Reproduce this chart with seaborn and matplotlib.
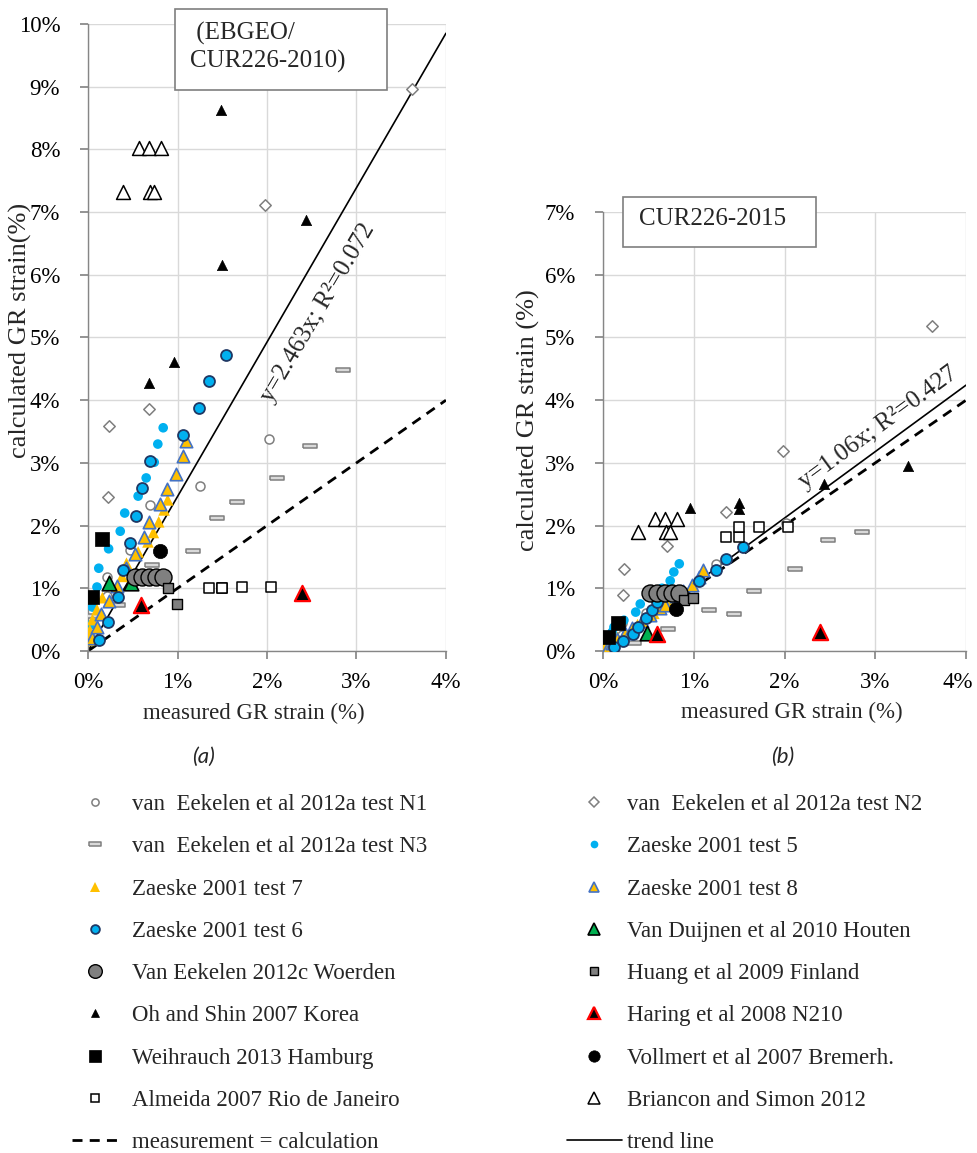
import matplotlib
matplotlib.use("Agg")
import matplotlib.pyplot as plt
from matplotlib.lines import Line2D
from matplotlib.patches import Rectangle
from matplotlib.ticker import FuncFormatter
from matplotlib.transforms import ScaledTranslation
import seaborn as sns

# ---- data (strain in %), panel a = EBGEO/CUR226-2010, panel b = CUR226-2015 ----
n1_x = [0.21, 0.21, 0.47, 0.69, 1.25, 2.02]
n1_a = [0.88, 1.18, 1.61, 2.33, 2.63, 3.38]
n1_b = [0.25, 0.45, 0.61, 0.95, 1.39, 2.04]

n2_xa = [0.22, 0.23, 0.68, 1.98, 3.62]
n2_a = [2.46, 3.59, 3.86, 7.11, 8.96]
n2_xb = [0.22, 0.23, 0.70, 1.36, 1.98, 3.62]
n2_b = [0.89, 1.31, 1.68, 2.22, 3.19, 5.18]

n3_x = [0.04, 0.34, 0.72, 1.17, 1.44, 1.66, 2.11, 2.48, 2.85]
n3_a = [0.56, 0.73, 1.37, 1.60, 2.12, 2.38, 2.76, 3.27, 4.48]
n3_b = [0.08, 0.13, 0.35, 0.65, 0.59, 0.96, 1.31, 1.77, 1.90]

t5_x = [0.02, 0.05, 0.10, 0.12, 0.23, 0.36, 0.41, 0.56, 0.65, 0.74, 0.78, 0.84]
t5_a = [0.41, 0.70, 1.02, 1.32, 1.63, 1.91, 2.20, 2.47, 2.76, 3.01, 3.30, 3.56]
t5_b = [0.12, 0.22, 0.30, 0.38, 0.49, 0.62, 0.75, 0.90, 1.00, 1.12, 1.26, 1.39]

t7_x = [0.01, 0.02, 0.05, 0.10, 0.16, 0.38, 0.43, 0.56, 0.67, 0.73, 0.79, 0.85, 0.89]
t7_a = [0.17, 0.33, 0.50, 0.66, 0.85, 1.19, 1.40, 1.58, 1.74, 1.89, 2.06, 2.25, 2.41]
t7_b = [0.03, 0.06, 0.10, 0.16, 0.22, 0.42, 0.48, 0.60, 0.72, 0.78, 0.84, 0.90, 0.95]

t8_x = [0.05, 0.10, 0.15, 0.24, 0.32, 0.43, 0.52, 0.63, 0.68, 0.80, 0.88, 0.98, 1.06, 1.10]
t8_a = [0.21, 0.38, 0.59, 0.80, 1.03, 1.32, 1.55, 1.81, 2.06, 2.35, 2.58, 2.82, 3.11, 3.35]
t8_b = [0.07, 0.13, 0.19, 0.28, 0.37, 0.48, 0.57, 0.68, 0.74, 0.87, 0.95, 1.05, 1.18, 1.29]

t6_x = [0.12, 0.22, 0.33, 0.39, 0.47, 0.54, 0.60, 0.69, 1.06, 1.24, 1.35, 1.54]
t6_a = [0.17, 0.46, 0.86, 1.29, 1.72, 2.15, 2.60, 3.03, 3.45, 3.88, 4.31, 4.72]
t6_b = [0.07, 0.16, 0.27, 0.39, 0.52, 0.65, 0.78, 0.89, 1.12, 1.29, 1.47, 1.66]

houten_xa = [0.23, 0.48]
houten_a = [1.08, 1.08]
houten_xb = [0.48]
houten_b = [0.28]

woerden_x = [0.52, 0.60, 0.68, 0.76, 0.84]
woerden_a = [1.18, 1.18, 1.18, 1.18, 1.18]
woerden_b = [0.93, 0.93, 0.93, 0.93, 0.93]

huang_x = [0.89, 0.99]
huang_a = [1.00, 0.75]
huang_b = [0.81, 0.85]

oh_xa = [0.68, 0.96, 1.49, 1.50, 2.44]
oh_a = [4.27, 4.61, 8.63, 6.16, 6.87]
oh_xb = [0.96, 1.50, 1.50, 2.44, 3.36]
oh_b = [2.28, 2.36, 2.27, 2.66, 2.95]

haring_x = [0.59, 2.39]
haring_a = [0.73, 0.93]
haring_b = [0.27, 0.30]

weih_x = [0.05, 0.16]
weih_a = [0.86, 1.78]
weih_b = [0.22, 0.44]

voll_x = [0.80]
voll_a = [1.60]
voll_b = [0.67]

alm_x = [1.35, 1.50, 1.50, 1.72, 2.04]
alm_a = [1.00, 1.01, 1.01, 1.02, 1.02]
alm_b = [1.82, 1.82, 1.98, 1.98, 1.98]

bri_x = [0.39, 0.57, 0.68, 0.82, 0.69, 0.74]
bri_a = [7.32, 8.02, 8.02, 8.02, 7.32, 7.32]
bri_b = [1.90, 2.10, 2.10, 2.10, 1.90, 1.90]

line_x = [0, 4]
slope_a = 2.463
slope_b = 1.06
trend_text_a = "y=2.463x; R²=0.072"
trend_text_b = "y=1.06x; R²=0.427"

# ---- marker styles ----
bar = [(-1, -0.3), (1, -0.3), (1, 0.3), (-1, 0.3), (-1, -0.3)]
st = {
    "n1": dict(marker="o", s=42, color="white", edgecolor="#7f7f7f", linewidth=1.1),
    "n2": dict(marker="D", s=34, color="white", edgecolor="#7f7f7f", linewidth=1.1),
    "n3": dict(marker=bar, s=110, color="#d9d9d9", edgecolor="#7f7f7f", linewidth=1.1),
    "t5": dict(marker="o", s=48, color="#00b0f0", edgecolor="none", linewidth=0),
    "t7": dict(marker="^", s=70, color="#ffc000", edgecolor="none", linewidth=0),
    "t8": dict(marker="^", s=80, color="#ffc000", edgecolor="#4472c4", linewidth=1.2),
    "t6": dict(marker="o", s=62, color="#00b0f0", edgecolor="#1f3864", linewidth=1.3),
    "houten": dict(marker="^", s=110, color="#00b050", edgecolor="black", linewidth=1.2),
    "woerden": dict(marker="o", s=150, color="#808080", edgecolor="black", linewidth=1.0),
    "huang": dict(marker="s", s=62, color="#808080", edgecolor="black", linewidth=1.0),
    "oh": dict(marker="^", s=55, color="black", edgecolor="black", linewidth=0.5),
    "haring": dict(marker="^", s=120, color="black", edgecolor="red", linewidth=1.6),
    "weih": dict(marker="s", s=110, color="black", edgecolor="black", linewidth=0.5),
    "voll": dict(marker="o", s=105, color="black", edgecolor="black", linewidth=0.5),
    "alm": dict(marker="s", s=62, color="white", edgecolor="black", linewidth=1.1),
    "bri": dict(marker="^", s=100, color="white", edgecolor="black", linewidth=1.1),
}

series = [
    ("n1", "van  Eekelen et al 2012a test N1", n1_x, n1_a, n1_x, n1_b),
    ("n2", "van  Eekelen et al 2012a test N2", n2_xa, n2_a, n2_xb, n2_b),
    ("n3", "van  Eekelen et al 2012a test N3", n3_x, n3_a, n3_x, n3_b),
    ("t5", "Zaeske 2001 test 5", t5_x, t5_a, t5_x, t5_b),
    ("t7", "Zaeske 2001 test 7", t7_x, t7_a, t7_x, t7_b),
    ("t8", "Zaeske 2001 test 8", t8_x, t8_a, t8_x, t8_b),
    ("t6", "Zaeske 2001 test 6", t6_x, t6_a, t6_x, t6_b),
    ("houten", "Van Duijnen et al 2010 Houten", houten_xa, houten_a, houten_xb, houten_b),
    ("woerden", "Van Eekelen 2012c Woerden", woerden_x, woerden_a, woerden_x, woerden_b),
    ("huang", "Huang et al 2009 Finland", huang_x, huang_a, huang_x, huang_b),
    ("oh", "Oh and Shin 2007 Korea", oh_xa, oh_a, oh_xb, oh_b),
    ("haring", "Haring et al 2008 N210", haring_x, haring_a, haring_x, haring_b),
    ("weih", "Weihrauch 2013 Hamburg", weih_x, weih_a, weih_x, weih_b),
    ("voll", "Vollmert et al 2007 Bremerh.", voll_x, voll_a, voll_x, voll_b),
    ("alm", "Almeida 2007 Rio de Janeiro", alm_x, alm_a, alm_x, alm_b),
    ("bri", "Briancon and Simon 2012", bri_x, bri_a, bri_x, bri_b),
]

sns.set_theme(style="white")
plt.rcParams["font.family"] = ["Liberation Serif", "DejaVu Serif"]
FS = 16.5

fig = plt.figure(figsize=(9.78, 11.53), dpi=100)
ax_a = fig.add_axes([0.0900, 0.4354, 0.3660, 0.5438])
ax_b = fig.add_axes([0.6166, 0.4354, 0.3712, 0.3807])


def style_axes(ax, ymax):
    ax.set_xlim(0, 4)
    ax.set_ylim(0, ymax)
    ax.set_xticks(range(5))
    ax.set_yticks(range(ymax + 1))
    pct = FuncFormatter(lambda v, p: f"{v:.0f}%")
    ax.xaxis.set_major_formatter(pct)
    ax.yaxis.set_major_formatter(pct)
    ax.grid(True, color="#d9d9d9", lw=1.0)
    ax.set_axisbelow(True)
    for side in ["top", "right"]:
        ax.spines[side].set_visible(False)
    for side in ["left", "bottom"]:
        ax.spines[side].set_color("#868686")
        ax.spines[side].set_linewidth(1.0)
    ax.tick_params(bottom=True, left=True, direction="out", length=6,
                   color="#868686", labelsize=FS, labelcolor="black")
    ax.tick_params(axis="y", pad=14)
    ax.tick_params(axis="x", pad=9)


for ax, side in [(ax_a, "a"), (ax_b, "b")]:
    for key, label, xa, ya, xb, yb in series:
        x, y = (xa, ya) if side == "a" else (xb, yb)
        sns.scatterplot(x=x, y=y, ax=ax, zorder=3, legend=False, **st[key])
    slope = slope_a if side == "a" else slope_b
    sns.lineplot(x=line_x, y=line_x, ax=ax, color="black", lw=2.0,
                 linestyle=(0, (3.6, 2.6)), zorder=2)
    sns.lineplot(x=line_x, y=[slope * v for v in line_x], ax=ax, color="black",
                 lw=1.2, zorder=2)

style_axes(ax_a, 10)
style_axes(ax_b, 7)

ax_a.text(2.57, 5.39, trend_text_a, rotation=59.5, rotation_mode="anchor",
          ha="center", va="center", fontsize=18)
ax_b.text(3.03, 3.56, trend_text_b, rotation=36.3, rotation_mode="anchor",
          ha="center", va="center", fontsize=18)

ax_a.set_xlabel("measured GR strain (%)", fontsize=FS, va="center")
ax_a.xaxis.set_label_coords(0.464, -0.099)
ax_b.set_xlabel("measured GR strain (%)", fontsize=FS, va="center")
ax_b.xaxis.set_label_coords(0.52, -0.141)
ax_a.set_ylabel("calculated GR strain(%)", fontsize=19, va="center")
ax_a.yaxis.set_label_coords(-0.19, 0.512)
ax_b.set_ylabel("calculated GR strain (%)", fontsize=19, va="center")
ax_b.yaxis.set_label_coords(-0.205, 0.526)

# boxed panel titles
fig.patches.append(Rectangle((0.1789, 0.9219), 0.2168, 0.0703, transform=fig.transFigure,
                             facecolor="white", edgecolor="#7f7f7f", lw=1.2, zorder=5))
fig.text(0.1943, 0.9588, " (EBGEO/\nCUR226-2010)", ha="left", va="center",
         fontsize=18, linespacing=1.25, zorder=6)
fig.patches.append(Rectangle((0.6370, 0.7858), 0.1973, 0.0434, transform=fig.transFigure,
                             facecolor="white", edgecolor="#7f7f7f", lw=1.2, zorder=5))
fig.text(0.6534, 0.8101, "CUR226-2015", ha="left", va="center", fontsize=18, zorder=6)

fig.text(203 / 978, 1 - 757 / 1153, "(a)", ha="center", va="center", fontsize=16,
         style="italic", family=["Lato", "DejaVu Sans"])
fig.text(783 / 978, 1 - 757 / 1153, "(b)", ha="center", va="center", fontsize=16,
         style="italic", family=["Lato", "DejaVu Sans"])


# legends: two columns
def handle(key):
    s = st[key]
    return Line2D([], [], linestyle="none", marker=s["marker"], markersize=(s["s"] ** 0.5) * 0.8,
                  markerfacecolor=s["color"], markeredgecolor=s["edgecolor"],
                  markeredgewidth=s["linewidth"])


left_keys = ["n1", "n3", "t7", "t6", "woerden", "oh", "weih", "alm"]
right_keys = ["n2", "t5", "t8", "houten", "huang", "haring", "voll", "bri"]
labels = {k: lab for k, lab, *_ in series}

h_left = [handle(k) for k in left_keys] + [Line2D([], [], color="black", lw=2.0,
                                                  linestyle=(0, (3.6, 2.6)))]
l_left = [labels[k] for k in left_keys] + ["measurement = calculation"]
h_right = [handle(k) for k in right_keys] + [Line2D([], [], color="black", lw=1.2)]
l_right = [labels[k] for k in right_keys] + ["trend line"]

fig.legend(h_left, l_left, loc="upper left", bbox_to_anchor=(72 / 978, 0.3113),
           frameon=False, fontsize=FS, labelspacing=0.925, handlelength=2.0,
           handletextpad=0.6, borderpad=0, borderaxespad=0)
fig.legend(h_right, l_right, loc="upper left", bbox_to_anchor=(567 / 978, 0.3113),
           frameon=False, fontsize=FS, labelspacing=0.925, handlelength=2.4,
           handletextpad=0.2, borderpad=0, borderaxespad=0)

# keep the last x tick label of panel b inside the canvas
fig.canvas.draw()
last = ax_b.xaxis.get_major_ticks()[-1].label1
last.set_transform(last.get_transform() + ScaledTranslation(-8 / 100, 0, fig.dpi_scale_trans))

fig.savefig("out.png", dpi=100)
